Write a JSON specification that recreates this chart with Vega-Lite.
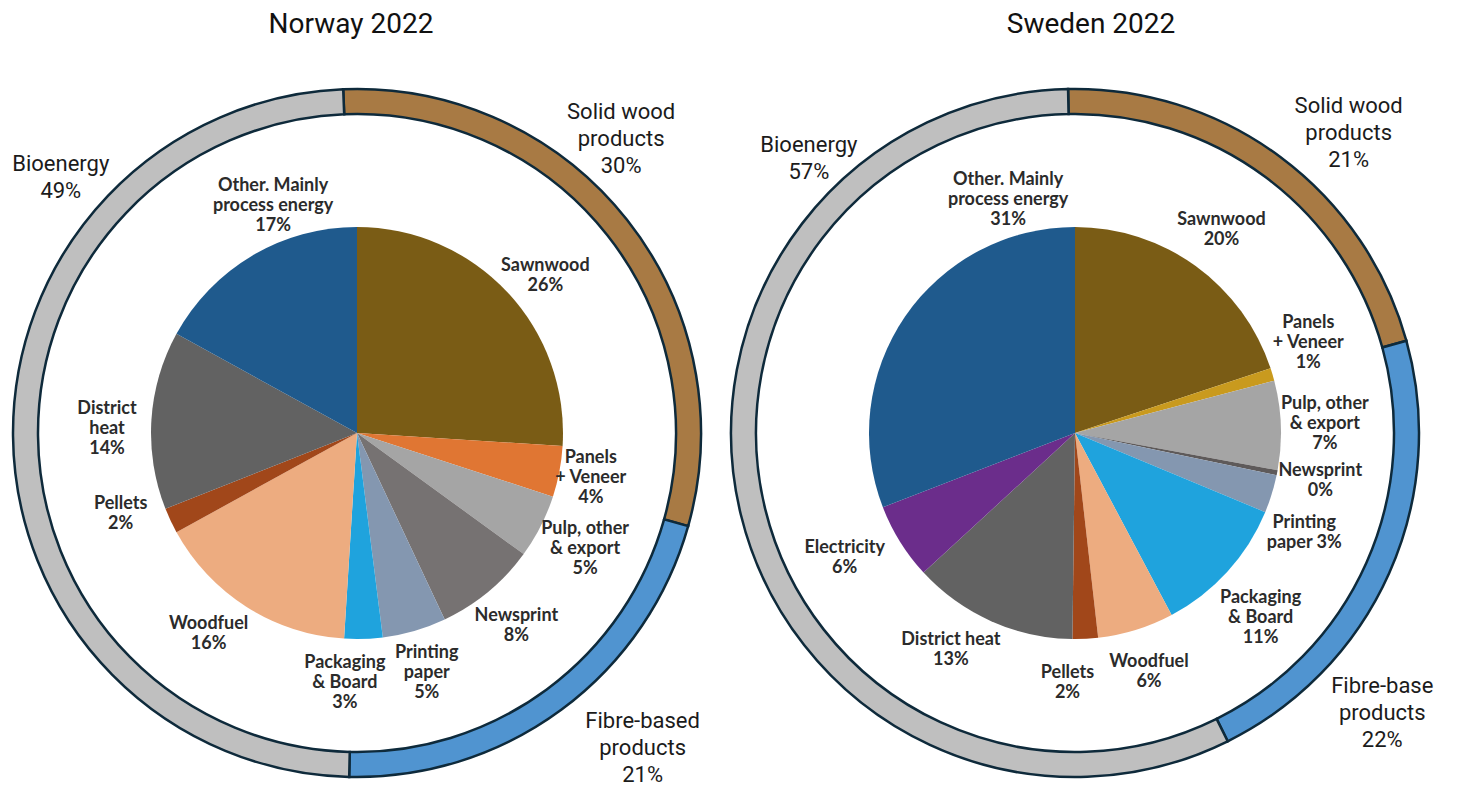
{
  "$schema": "https://vega.github.io/schema/vega-lite/v6.json",
  "background": "white",
  "padding": {"left": 2, "top": 11, "right": 0, "bottom": 0},
  "spacing": 8,
  "config": {
    "view": {"stroke": null},
    "title": {"font": "Roboto", "fontSize": 28, "fontWeight": "normal", "color": "#111111", "offset": 24, "baseline": "alphabetic"}
  },
  "datasets": {
    "norwayRing": [
      {"name": "Solid wood products", "value": 30, "rank": 1, "label": "Solid wood\nproducts\n30%"},
      {"name": "Fibre-based products", "value": 21, "rank": 2, "label": "Fibre-based\nproducts\n21%"},
      {"name": "Bioenergy", "value": 49, "rank": 3, "label": "Bioenergy\n49%"}
    ],
    "norwayPie": [
      {"name": "Sawnwood", "value": 26, "rank": 1, "label": "Sawnwood\n26%"},
      {"name": "Panels + Veneer", "value": 4, "rank": 2, "label": "Panels\n+ Veneer\n4%"},
      {"name": "Pulp, other & export", "value": 5, "rank": 3, "label": "Pulp, other\n& export\n5%"},
      {"name": "Newsprint", "value": 8, "rank": 4, "label": "Newsprint\n8%"},
      {"name": "Printing paper", "value": 5, "rank": 5, "label": "Printing\npaper\n5%"},
      {"name": "Packaging & Board", "value": 3, "rank": 6, "label": "Packaging\n& Board\n3%"},
      {"name": "Woodfuel", "value": 16, "rank": 7, "label": "Woodfuel\n16%"},
      {"name": "Pellets", "value": 2, "rank": 8, "label": "Pellets\n2%"},
      {"name": "District heat", "value": 14, "rank": 9, "label": "District\nheat\n14%"},
      {"name": "Other. Mainly process energy", "value": 17, "rank": 10, "label": "Other. Mainly\nprocess energy\n17%"}
    ],
    "swedenRing": [
      {"name": "Solid wood products", "value": 21, "rank": 1, "label": "Solid wood\nproducts\n21%"},
      {"name": "Fibre-base products", "value": 22, "rank": 2, "label": "Fibre-base\nproducts\n22%"},
      {"name": "Bioenergy", "value": 57, "rank": 3, "label": "Bioenergy\n57%"}
    ],
    "swedenPie": [
      {"name": "Sawnwood", "value": 20, "rank": 1, "label": "Sawnwood\n20%"},
      {"name": "Panels + Veneer", "value": 1, "rank": 2, "label": "Panels\n+ Veneer\n1%"},
      {"name": "Pulp, other & export", "value": 7, "rank": 3, "label": "Pulp, other\n& export\n7%"},
      {"name": "Newsprint", "value": 0.4, "rank": 4, "label": "Newsprint\n0%"},
      {"name": "Printing paper", "value": 3, "rank": 5, "label": "Printing\npaper 3%"},
      {"name": "Packaging & Board", "value": 11, "rank": 6, "label": "Packaging\n& Board\n11%"},
      {"name": "Woodfuel", "value": 6, "rank": 7, "label": "Woodfuel\n6%"},
      {"name": "Pellets", "value": 2, "rank": 8, "label": "Pellets\n2%"},
      {"name": "District heat", "value": 13, "rank": 9, "label": "District heat\n13%"},
      {"name": "Electricity", "value": 6, "rank": 10, "label": "Electricity\n6%"},
      {"name": "Other. Mainly process energy", "value": 31, "rank": 11, "label": "Other. Mainly\nprocess energy\n31%"}
    ]
  },
  "hconcat": [
    {
      "title": {"text": "Norway 2022", "dx": -6},
      "width": 710,
      "height": 740,
      "resolve": {"scale": {"theta": "independent"}},
      "layer": [
        {
          "data": {"name": "norwayRing"},
          "mark": {"type": "arc", "radius": 344, "radius2": 319, "stroke": "#0E2A3B", "strokeWidth": 2.5},
          "encoding": {
            "theta": {"field": "value", "type": "quantitative", "stack": true, "scale": {"range": [-0.04, 6.243]}},
            "order": {"field": "rank", "type": "quantitative"},
            "color": {"field": "name", "type": "nominal", "legend": null,
              "scale": {
                "domain": ["Solid wood products", "Fibre-based products", "Bioenergy", "Sawnwood", "Panels + Veneer", "Pulp, other & export", "Newsprint", "Printing paper", "Packaging & Board", "Woodfuel", "Pellets", "District heat", "Other. Mainly process energy"],
                "range": ["#A87A44", "#5094D0", "#BFBFBF", "#7A5C15", "#E07633", "#A5A5A5", "#767272", "#8497B0", "#1FA3DD", "#EDAC80", "#A1471A", "#626262", "#1F5A8D"]
              }
            }
          }
        },
        {
          "data": {"name": "norwayRing"},
          "mark": {"type": "text", "radius": 400, "font": "Roboto", "fontSize": 22, "lineHeight": 27, "lineBreak": "\n", "color": "#1B1B1B", "align": "center", "baseline": "middle",
            "thetaOffset": {"expr": "datum.rank == 3 ? 0.72 : datum.rank == 1 ? -0.17 : -0.1"},
            "radiusOffset": {"expr": "datum.rank == 3 ? -9 : datum.rank == 2 ? 25 : -5"},
            "dy": {"expr": "-(length(split(datum.label, '\\n')) - 1) * 13.5"}},
          "encoding": {
            "theta": {"field": "value", "type": "quantitative", "stack": true, "scale": {"range": [-0.04, 6.243]}},
            "order": {"field": "rank", "type": "quantitative"},
            "text": {"field": "label", "type": "nominal"}
          }
        },
        {
          "data": {"name": "norwayPie"},
          "mark": {"type": "arc", "radius": 206},
          "encoding": {
            "theta": {"field": "value", "type": "quantitative", "stack": true},
            "order": {"field": "rank", "type": "quantitative"},
            "color": {"field": "name", "type": "nominal", "legend": null,
              "scale": {
                "domain": ["Solid wood products", "Fibre-based products", "Bioenergy", "Sawnwood", "Panels + Veneer", "Pulp, other & export", "Newsprint", "Printing paper", "Packaging & Board", "Woodfuel", "Pellets", "District heat", "Other. Mainly process energy"],
                "range": ["#A87A44", "#5094D0", "#BFBFBF", "#7A5C15", "#E07633", "#A5A5A5", "#767272", "#8497B0", "#1FA3DD", "#EDAC80", "#A1471A", "#626262", "#1F5A8D"]
              }
            }
          }
        },
        {
          "data": {"name": "norwayPie"},
          "mark": {"type": "text", "radius": 250, "font": "Lato", "fontWeight": "bold", "fontSize": 18, "lineHeight": 20, "lineBreak": "\n", "color": "#2B2B2B", "align": "center", "baseline": "middle",
            "thetaOffset": {"expr": "datum.rank == 10 ? 0.18 : datum.rank == 1 ? 0.06 : datum.rank == 6 ? 0.08 : datum.rank == 8 ? 0.108 : datum.rank == 7 ? 0.07 : datum.rank == 9 ? -0.045 : 0"},
            "radiusOffset": {"expr": "datum.rank == 2 ? -12 : datum.rank == 10 ? -8 : datum.rank == 1 ? -5 : datum.rank == 3 ? 6 : 0"},
            "dy": {"expr": "-(length(split(datum.label, '\\n')) - 1) * 10"}},
          "encoding": {
            "theta": {"field": "value", "type": "quantitative", "stack": true},
            "order": {"field": "rank", "type": "quantitative"},
            "text": {"field": "label", "type": "nominal"}
          }
        }
      ]
    },
    {
      "title": {"text": "Sweden 2022", "dx": 16},
      "width": 710,
      "height": 740,
      "resolve": {"scale": {"theta": "independent"}},
      "layer": [
        {
          "data": {"name": "swedenRing"},
          "mark": {"type": "arc", "radius": 344, "radius2": 319, "stroke": "#0E2A3B", "strokeWidth": 2.5},
          "encoding": {
            "theta": {"field": "value", "type": "quantitative", "stack": true, "scale": {"range": [-0.02, 6.263]}},
            "order": {"field": "rank", "type": "quantitative"},
            "color": {"field": "name", "type": "nominal", "legend": null,
              "scale": {
                "domain": ["Solid wood products", "Fibre-base products", "Bioenergy", "Sawnwood", "Panels + Veneer", "Pulp, other & export", "Newsprint", "Printing paper", "Packaging & Board", "Woodfuel", "Pellets", "District heat", "Electricity", "Other. Mainly process energy"],
                "range": ["#A87A44", "#5094D0", "#BFBFBF", "#7A5C15", "#C99A1E", "#A5A5A5", "#5E5A5A", "#8497B0", "#1FA3DD", "#EDAC80", "#A1471A", "#626262", "#6B2D8B", "#1F5A8D"]
              }
            }
          }
        },
        {
          "data": {"name": "swedenRing"},
          "mark": {"type": "text", "radius": 400, "font": "Roboto", "fontSize": 22, "lineHeight": 27, "lineBreak": "\n", "color": "#1B1B1B", "align": "center", "baseline": "middle",
            "thetaOffset": {"expr": "datum.rank == 3 ? 1.04 : datum.rank == 1 ? 0.1 : 0.32"},
            "radiusOffset": {"expr": "datum.rank == 3 ? -18 : datum.rank == 2 ? 16 : 6"},
            "dy": {"expr": "-(length(split(datum.label, '\\n')) - 1) * 13.5"}},
          "encoding": {
            "theta": {"field": "value", "type": "quantitative", "stack": true, "scale": {"range": [-0.02, 6.263]}},
            "order": {"field": "rank", "type": "quantitative"},
            "text": {"field": "label", "type": "nominal"}
          }
        },
        {
          "data": {"name": "swedenPie"},
          "mark": {"type": "arc", "radius": 206},
          "encoding": {
            "theta": {"field": "value", "type": "quantitative", "stack": true},
            "order": {"field": "rank", "type": "quantitative"},
            "color": {"field": "name", "type": "nominal", "legend": null,
              "scale": {
                "domain": ["Solid wood products", "Fibre-base products", "Bioenergy", "Sawnwood", "Panels + Veneer", "Pulp, other & export", "Newsprint", "Printing paper", "Packaging & Board", "Woodfuel", "Pellets", "District heat", "Electricity", "Other. Mainly process energy"],
                "range": ["#A87A44", "#5094D0", "#BFBFBF", "#7A5C15", "#C99A1E", "#A5A5A5", "#5E5A5A", "#8497B0", "#1FA3DD", "#EDAC80", "#A1471A", "#626262", "#6B2D8B", "#1F5A8D"]
              }
            }
          }
        },
        {
          "data": {"name": "swedenPie"},
          "mark": {"type": "text", "radius": 250, "font": "Lato", "fontWeight": "bold", "fontSize": 18, "lineHeight": 20, "lineBreak": "\n", "color": "#2B2B2B", "align": "center", "baseline": "middle",
            "thetaOffset": {"expr": "datum.rank == 11 ? 0.69 : datum.rank == 2 ? -0.08 : datum.rank == 5 ? 0.11 : datum.rank == 9 ? 0.1 : datum.rank == 8 ? 0.08 : datum.rank == 6 ? 0.045 : datum.rank == 10 ? 0.06 : 0"},
            "radiusOffset": {"expr": "datum.rank == 11 ? -8 : datum.rank == 6 ? 12 : datum.rank == 10 ? 12 : 0"},
            "dy": {"expr": "-(length(split(datum.label, '\\n')) - 1) * 10"}},
          "encoding": {
            "theta": {"field": "value", "type": "quantitative", "stack": true},
            "order": {"field": "rank", "type": "quantitative"},
            "text": {"field": "label", "type": "nominal"}
          }
        }
      ]
    }
  ],
  "resolve": {"scale": {"color": "independent", "theta": "independent"}}
}
